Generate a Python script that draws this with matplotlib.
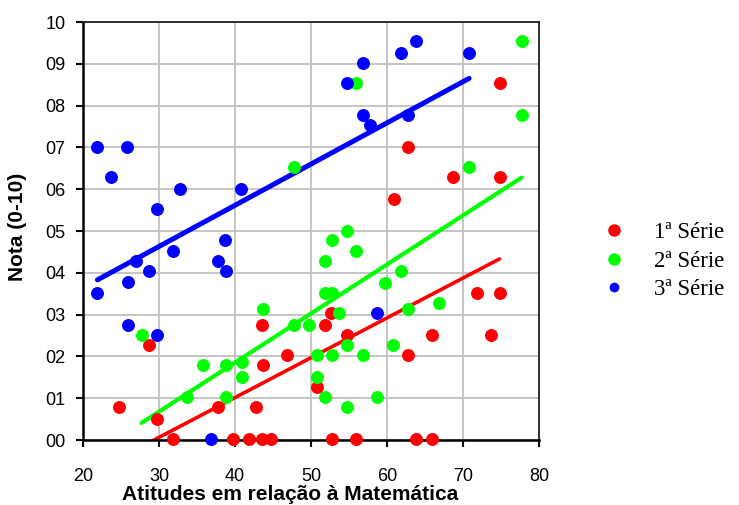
import numpy as np
import matplotlib
matplotlib.use("Agg")
import matplotlib.pyplot as plt

plt.rcParams["font.family"] = ["Liberation Sans", "DejaVu Sans"]

# 1a Serie
x1 = [74.8, 62.7, 68.7, 74.8, 60.9, 43.6, 28.7, 46.9, 43.7, 24.8, 37.7, 42.7, 29.8,
      31.9, 39.8, 41.9, 43.6, 44.8, 71.9, 74.8, 52.6, 51.9, 54.8, 65.9, 73.7, 62.7,
      50.8, 52.7, 55.9, 63.8, 65.9]
y1 = [8.55, 7.02, 6.30, 6.30, 5.77, 2.75, 2.27, 2.03, 1.79, 0.80, 0.80, 0.80, 0.50,
      0.02, 0.02, 0.02, 0.02, 0.02, 3.52, 3.52, 3.04, 2.75, 2.51, 2.51, 2.51, 2.03,
      1.28, 0.02, 0.02, 0.02, 0.02]
# 2a Serie
x2 = [47.7, 77.7, 55.9, 77.7, 70.8, 54.8, 52.7, 55.9, 51.9, 61.9, 59.8, 51.9, 52.8,
      66.9, 62.7, 53.7, 43.7, 27.7, 47.7, 49.8, 54.8, 60.8, 50.8, 52.7, 56.9, 35.8,
      38.8, 40.9, 40.9, 50.8, 33.7, 38.8, 51.9, 58.7, 54.8]
y2 = [6.54, 9.55, 8.55, 7.78, 6.54, 5.00, 4.78, 4.52, 4.28, 4.04, 3.76, 3.52, 3.52,
      3.28, 3.13, 3.04, 3.13, 2.51, 2.75, 2.75, 2.27, 2.27, 2.03, 2.03, 2.03, 1.79,
      1.79, 1.87, 1.51, 1.51, 1.04, 1.04, 1.04, 1.04, 0.80]
# 3a Serie
x3 = [21.9, 25.8, 23.7, 32.7, 40.8, 29.8, 38.7, 21.9, 25.9, 28.7, 27.0, 31.9, 37.7,
      38.8, 25.9, 29.8, 36.9, 63.8, 61.9, 70.8, 56.9, 54.8, 56.9, 57.7, 62.7, 58.7]
y3 = [7.02, 7.02, 6.30, 6.00, 6.00, 5.53, 4.78, 3.52, 3.77, 4.04, 4.29, 4.52, 4.28,
      4.04, 2.75, 2.51, 0.02, 9.55, 9.27, 9.27, 9.03, 8.55, 7.78, 7.53, 7.78, 3.03]

labels = ["1ª Série", "2ª Série", "3ª Série"]
cores = ["#ff0000", "#00ff00", "#0000ff"]
yticks = ["00", "01", "02", "03", "04", "05", "06", "07", "08", "09", "10"]

fig = plt.figure(figsize=(7.39, 5.05), dpi=100)
ax = fig.add_axes([0.1123, 0.1287, 0.6171, 0.8277])

series = [(x1, y1), (x2, y2), (x3, y3)]
larg = [2.6, 3.0, 3.6]
for (xs, ys), cor, lab, lw in zip(series, cores, labels, larg):
    xs = np.array(xs)
    ys = np.array(ys)
    ax.plot(xs, ys, "o", color=cor, markersize=8.3, label=lab, zorder=3, clip_on=False)
    # linha de tendencia
    a, b = np.polyfit(xs, ys, 1)
    xx = np.array([xs.min(), xs.max()])
    ax.plot(xx, a * xx + b, "-", color=cor, lw=lw, zorder=2, solid_capstyle="round")

ax.set_xlim(20, 80)
ax.set_ylim(0, 10)
ax.set_xticks(range(20, 81, 10))
ax.set_yticks(range(0, 11))
ax.set_yticklabels(yticks)
ax.grid(True, color="#c0c0c0", lw=1.3)
ax.set_axisbelow(True)
for s in ["left", "bottom"]:
    ax.spines[s].set_linewidth(1.8)
for s in ["top", "right"]:
    ax.spines[s].set_linewidth(1.3)
    ax.spines[s].set_color("#202020")
ax.tick_params(direction="out", length=5, width=1.5, labelsize=13)
ax.tick_params(axis="x", pad=15)
ax.tick_params(axis="y", pad=7.5)

ax.set_xlabel("Atitudes em relação à Matemática", fontsize=15, fontweight="bold")
ax.xaxis.set_label_coords(0.454, -0.108)
ax.set_ylabel("Nota (0-10)", fontsize=15, fontweight="bold")
ax.yaxis.set_label_coords(-0.123, 0.51)

# legenda (so marcadores)
h = [plt.Line2D([], [], ls="none", marker="o", color=c, markersize=ms)
     for c, ms in zip(cores, [8, 8, 6])]
fig.legend(h, labels, loc="center left", bbox_to_anchor=(0.788, 0.483), frameon=False,
           prop={"family": "Liberation Serif", "size": 16.5}, handlelength=1,
           handletextpad=1.24, labelspacing=0.32)

fig.savefig("out.png", dpi=100)
